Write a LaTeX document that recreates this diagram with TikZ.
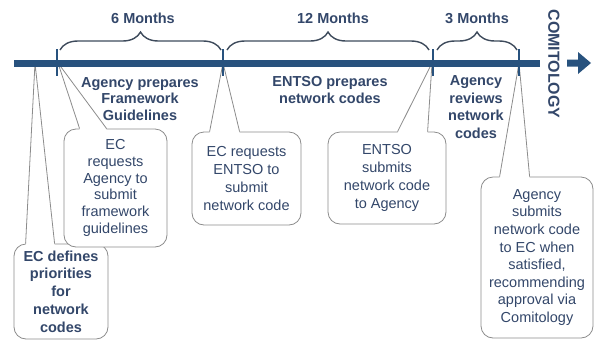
\documentclass[tikz,border=0pt]{standalone}
\usepackage{fontspec}
\setmainfont{Liberation Sans}
\usetikzlibrary{calc,decorations.pathreplacing}
\definecolor{barblue}{HTML}{28527E}
\definecolor{txtblue}{HTML}{33476A}
\definecolor{boxgray}{HTML}{8C8C8C}
\definecolor{bracecol}{HTML}{3E4B5C}
\tikzset{
  x=1pt, y=-1pt,
  hdr/.style={font=\bfseries\fontsize{14.5}{16.5}\selectfont, text=txtblue, align=center, inner sep=0pt},
  lbl/.style={font=\bfseries\fontsize{14.5}{16.8}\selectfont, text=txtblue, align=center, inner sep=0pt},
  cbox/.style={draw=boxgray, line width=0.8pt, rounded corners=12pt, fill=white, align=center, text=txtblue,
    font=\fontsize{14.5}{17.6}\selectfont, inner sep=0pt},
  wedgeline/.style={draw=boxgray, line width=0.8pt},
  tickmark/.style={draw=barblue, line width=2.4pt},
  bracestyle/.style={draw=bracecol, line width=1.4pt, decorate, decoration={brace, amplitude=18pt}},
}
\begin{document}
\begin{tikzpicture}
\useasboundingbox (0,0) rectangle (594,341);

% callout boxes
\node[cbox, minimum width=94pt, minimum height=95pt, font=\bfseries\fontsize{14.5}{17.7}\selectfont] (b1) at (61,291.5) {EC defines\\priorities\\for\\network\\codes};
\node[cbox, minimum width=103pt, minimum height=118pt, font=\fontsize{14.5}{16.8}\selectfont] (b2) at (115.5,188) {EC\\requests\\Agency to\\submit\\framework\\guidelines};
\node[cbox, minimum width=109pt, minimum height=93pt, font=\fontsize{14.5}{18}\selectfont] (b3) at (246.5,178.5) {EC requests\\ENTSO to\\submit\\network code};
\node[cbox, minimum width=118pt, minimum height=92pt, font=\fontsize{14.5}{18}\selectfont] (b4) at (387,178) {ENTSO\\submits\\network code\\to Agency};
\node[cbox, minimum width=112pt, minimum height=161pt] (b5) at (537,257.5) {Agency\\submits\\network code\\to EC when\\satisfied,\\recommending\\approval via\\Comitology};

% apex points on the bar
\coordinate (p1) at (35,63);
\coordinate (p2) at (58,63);
\coordinate (p3) at (223,63);
\coordinate (p4) at (432,63);
\coordinate (p5) at (519,63);

% wedges
\foreach \b/\p/\u/\v in {b1/p1/12/41, b2/p2/16/43, b3/p3/18/48, b4/p4/70/100, b5/p5/19/49}{
  \fill[white] ($(\b.north west)+(\u,1.2)$) -- (\p) -- ($(\b.north west)+(\v,1.2)$) -- cycle;
  \draw[wedgeline] ($(\b.north west)+(\u,0)$) -- (\p) -- ($(\b.north west)+(\v,0)$);
}

% timeline bar
\coordinate (barstart) at (14,63);
\coordinate (barend) at (540,63);
\draw[barblue, line width=7pt] (barstart) -- (barend);

% ticks
\foreach \t in {57,223,433,519}{
  \draw[tickmark] (\t,49) -- (\t,76);
}

% arrow
\fill[barblue] (567,59.5) -- (578,59.5) -- (578,52) -- (591,63) -- (578,74) -- (578,66.5) -- (567,66.5) -- cycle;

% braces
\draw[bracestyle] (60,50) -- (221,50);
\draw[bracestyle] (227,50) -- (429,50);
\draw[bracestyle] (437,50) -- (517,50);

% headers
\node[hdr] (h1) at (143,18) {6 Months};
\node[hdr] (h2) at (333,18) {12 Months};
\node[hdr] (h3) at (477,18) {3 Months};

% labels under bar
\node[lbl] (l1) at (140,99) {Agency prepares\\Framework\\Guidelines};
\node[lbl] (l2) at (330,90) {ENTSO prepares\\network codes};
\node[lbl, font=\bfseries\fontsize{14.5}{17.4}\selectfont] (l3) at (476,107) {Agency\\reviews\\network\\codes};

% comitology
\node[font=\bfseries\fontsize{16}{16}\selectfont, text=txtblue, rotate=-90, inner sep=0pt] (com) at (554,64) {COMITOLOGY};
\end{tikzpicture}
\end{document}
